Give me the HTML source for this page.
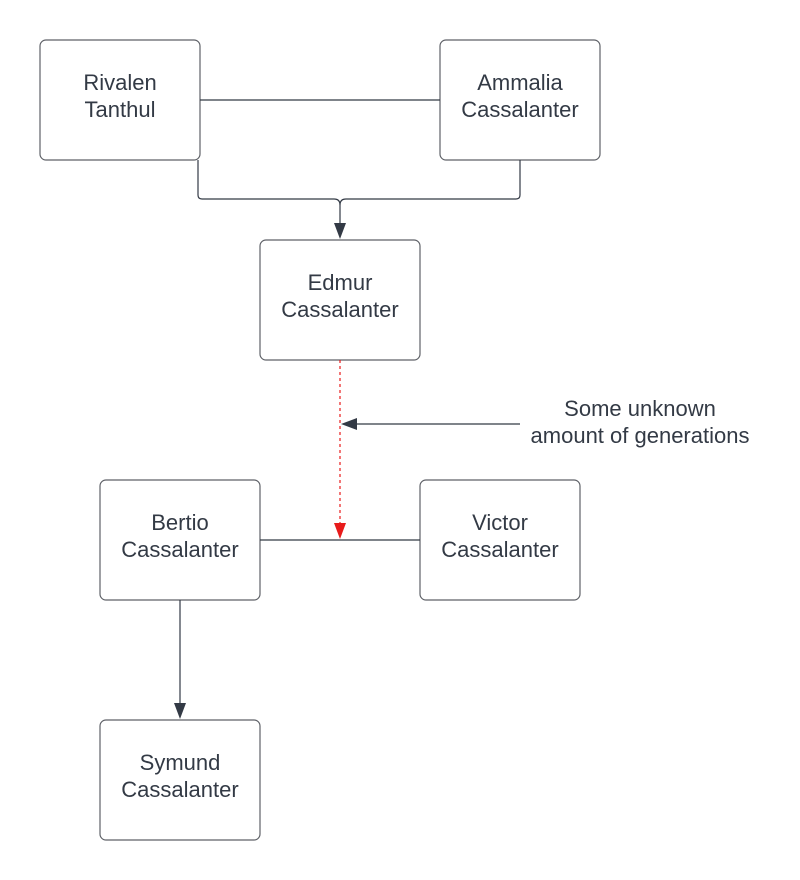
<!DOCTYPE html>
<html><head><style>
body{margin:0;background:#fff;}
svg{display:block;}
text{font-family:"Liberation Sans",sans-serif;font-size:22px;fill:#333a45;text-anchor:middle;}
</style></head><body>
<svg width="800" height="880" viewBox="0 0 800 880">
<g fill="#fff" stroke="#5f6268" stroke-width="1.2">
<rect x="40" y="40" width="160" height="120" rx="6"/>
<rect x="440" y="40" width="160" height="120" rx="6"/>
<rect x="260" y="240" width="160" height="120" rx="6"/>
<rect x="100" y="480" width="160" height="120" rx="6"/>
<rect x="420" y="480" width="160" height="120" rx="6"/>
<rect x="100" y="720" width="160" height="120" rx="6"/>
</g>
<g fill="none" stroke="#333a45" stroke-width="1.2">
<line x1="200" y1="100" x2="440" y2="100"/>
<path d="M198 160 V195 Q198 199 202 199 H334 Q340 199 340 205 V224"/>
<path d="M520 160 V195 Q520 199 516 199 H346 Q340 199 340 205"/>
<line x1="260" y1="540" x2="420" y2="540"/>
<line x1="520" y1="424" x2="356" y2="424"/>
<line x1="180" y1="600" x2="180" y2="704"/>
</g>
<g fill="#333a45">
<polygon points="334,223 346,223 340,239"/>
<polygon points="357,418 357,430 341,424"/>
<polygon points="174,703 186,703 180,719"/>
</g>
<line x1="340" y1="360" x2="340" y2="524" stroke="#e81b1b" stroke-width="1.2" stroke-dasharray="3,3"/>
<polygon points="334,523 346,523 340,539" fill="#e81b1b"/>
<text x="120" y="90">Rivalen</text><text x="120" y="117">Tanthul</text>
<text x="520" y="90">Ammalia</text><text x="520" y="117">Cassalanter</text>
<text x="340" y="290">Edmur</text><text x="340" y="317">Cassalanter</text>
<text x="180" y="530">Bertio</text><text x="180" y="557">Cassalanter</text>
<text x="500" y="530">Victor</text><text x="500" y="557">Cassalanter</text>
<text x="180" y="770">Symund</text><text x="180" y="797">Cassalanter</text>
<text x="640" y="416">Some unknown</text><text x="640" y="443">amount of generations</text>
</svg>
</body></html>
